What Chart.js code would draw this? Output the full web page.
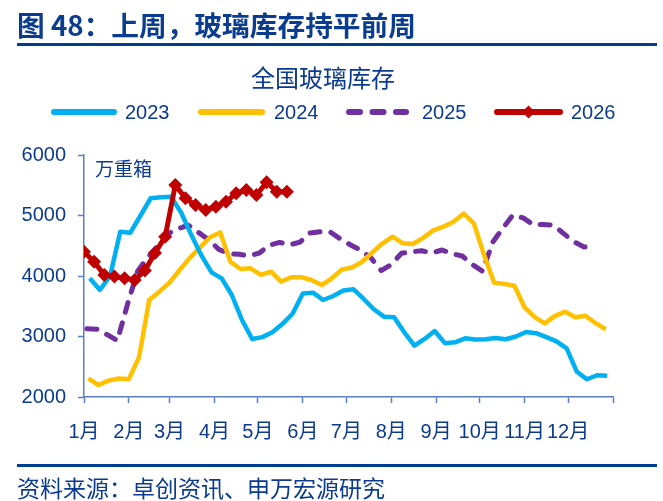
<!DOCTYPE html>
<html><head><meta charset="utf-8">
<script src="https://cdn.jsdelivr.net/npm/chart.js@4"></script>
<style>
html,body{margin:0;padding:0;background:#fff;}
#wrap{position:relative;width:663px;height:501px;overflow:hidden;font-family:"Noto Sans CJK SC","Liberation Sans",sans-serif;color:#0b3a8e;}
#title{position:absolute;left:17px;top:6px;font-size:27.7px;font-weight:bold;line-height:36px;white-space:nowrap;color:#0a3c8f;}
.rule{position:absolute;left:17px;width:640px;height:3px;background:#003e92;}
#ctitle{position:absolute;left:0;width:646px;text-align:center;top:62px;font-size:24px;line-height:30px;}
#unit{position:absolute;left:95px;top:156px;font-size:19px;line-height:24px;}
#source{position:absolute;left:17px;top:472px;font-size:23px;line-height:30px;white-space:nowrap;}
canvas{position:absolute;left:0;top:0;}
</style></head>
<body><div id="wrap">
<canvas id="c" width="663" height="501"></canvas>
<div id="title">图 48：上周，玻璃库存持平前周</div>
<div class="rule" style="top:43px"></div>
<div id="ctitle">全国玻璃库存</div>
<div id="unit">万重箱</div>
<div class="rule" style="top:464px"></div>
<div id="source">资料来源：卓创资讯、申万宏源研究</div>
</div>
<script>
// Month tick positions (day of year) and labels
const monthStartDays = [0,31,59,90,120,151,181,212,243,273,304,334,365];
const monthLabels = ['1月','2月','3月','4月','5月','6月','7月','8月','9月','10月','11月','12月',''];
const yTicks = [2000,3000,4000,5000,6000];

// First weekly observation (day of year) per series
const start2023 = 4, start2024 = 3, start2025 = 2, start2026 = 0;

const values2023 = [3962,3770,4000,4732,4716,5000,5285,5300,5311,5050,4680,4340,4060,3960,3686,3273,2960,2990,3070,3210,3380,3710,3724,3603,3670,3760,3780,3620,3450,3328,3320,3070,2850,2960,3090,2890,2904,2970,2950,2954,2975,2955,3000,3075,3055,2990,2920,2805,2420,2293,2360,2350];
const values2024 = [2309,2198,2270,2305,2295,2660,3603,3741,3890,4099,4300,4470,4640,4720,4236,4115,4127,4017,4071,3906,3979,3979,3934,3851,3962,4110,4140,4236,4390,4541,4650,4541,4529,4630,4755,4815,4898,5033,4870,4350,3890,3870,3840,3480,3320,3218,3340,3410,3317,3344,3220,3119];
const values2025 = [3130,3119,3030,2931,3530,4080,4310,4500,4700,4780,4840,4720,4600,4440,4370,4358,4335,4380,4510,4555,4515,4560,4710,4732,4725,4610,4513,4425,4300,4090,4190,4375,4400,4418,4380,4430,4370,4330,4190,4080,4560,4790,5010,4960,4850,4850,4840,4700,4567,4480,4496];
const values2026 = [4402,4236,4017,3990,3962,3934,4090,4380,4650,5504,5284,5174,5091,5146,5229,5366,5422,5339,5549,5394,5394];

const weekly = (start, vals) => vals.map((v,i) => ({x: start + 7*i, y: v}));

const TXT = '#0b3a8e', AXIS = '#5b7fc4';
Chart.defaults.font.family = '"Liberation Sans","Noto Sans CJK SC",sans-serif';

const legendPos = [[51,117,125],[198,265,274],[346,409,422],[494,563,571]];
const legendPlugin = {
  id: 'customLegend',
  afterDraw(chart) {
    const ctx = chart.ctx;
    const y = 112;
    chart.data.datasets.forEach((ds, i) => {
      const [x0, x1, xt] = legendPos[i];
      ctx.save();
      ctx.strokeStyle = ds.borderColor;
      ctx.lineWidth = 6;
      ctx.lineCap = 'round';
      if (ds.borderDash) ctx.setLineDash([11, 12.5]);
      ctx.beginPath(); ctx.moveTo(x0 + 3, y); ctx.lineTo(x1 - 3, y); ctx.stroke();
      ctx.setLineDash([]);
      if (ds.pointStyle === 'rectRot') {
        const cx = (x0 + x1) / 2, r = 6.5;
        ctx.fillStyle = ds.borderColor;
        ctx.beginPath(); ctx.moveTo(cx, y - r); ctx.lineTo(cx + r, y); ctx.lineTo(cx, y + r); ctx.lineTo(cx - r, y); ctx.closePath(); ctx.fill();
      }
      ctx.fillStyle = TXT;
      ctx.font = '20px "Liberation Sans", sans-serif';
      ctx.textBaseline = 'middle';
      ctx.fillText(ds.label, xt, y + 1);
      ctx.restore();
    });
  }
};

new Chart(document.getElementById('c'), {
  type: 'line',
  data: {
    datasets: [
      {label:'2023', data: weekly(start2023, values2023), borderColor:'#00b0f0', borderWidth:4.5, pointRadius:0, tension:0, order:1, borderJoinStyle:'round'},
      {label:'2024', data: weekly(start2024, values2024), borderColor:'#ffc000', borderWidth:4.5, pointRadius:0, tension:0, order:2, borderJoinStyle:'round'},
      {label:'2025', data: weekly(start2025, values2025), borderColor:'#7030a0', borderWidth:5, borderDash:[10,11], borderCapStyle:'round', borderJoinStyle:'round', pointRadius:0, tension:0, order:3},
      {label:'2026', data: weekly(start2026, values2026), borderColor:'#c00000', backgroundColor:'#c00000', borderWidth:5, pointStyle:'rectRot', pointRadius:7, pointBorderWidth:0, pointBackgroundColor:'#c00000', tension:0, order:0, borderJoinStyle:'round'}
    ]
  },
  options: {
    responsive: false,
    animation: false,
    events: [],
    layout: {padding: {top:155, right:50, bottom:60, left:0}},
    plugins: {legend:{display:false}, tooltip:{enabled:false}, title:{display:false}},
    scales: {
      x: {
        type: 'linear', min: 0, max: 365,
        afterBuildTicks: s => { s.ticks = monthStartDays.map(v => ({value: v})); },
        afterFit: s => { s.height = 44; },
        ticks: {callback: (v, i) => monthLabels[i], color: TXT, font:{size:20}, padding: 17, maxRotation:0, autoSkip:false},
        grid: {drawOnChartArea:false, color:AXIS, tickLength:6, tickWidth:1.5},
        border: {color:AXIS, width:1.5}
      },
      y: {
        min: 2000, max: 6000,
        afterBuildTicks: s => { s.ticks = yTicks.map(v => ({value: v})); },
        afterFit: s => { s.width = 84; },
        ticks: {callback: v => String(v), color: TXT, font:{size:20}, padding: 12},
        grid: {drawOnChartArea:false, color:AXIS, tickLength:6, tickWidth:1.5},
        border: {color:AXIS, width:1.5}
      }
    }
  },
  plugins: [legendPlugin]
});
</script>
</body></html>
